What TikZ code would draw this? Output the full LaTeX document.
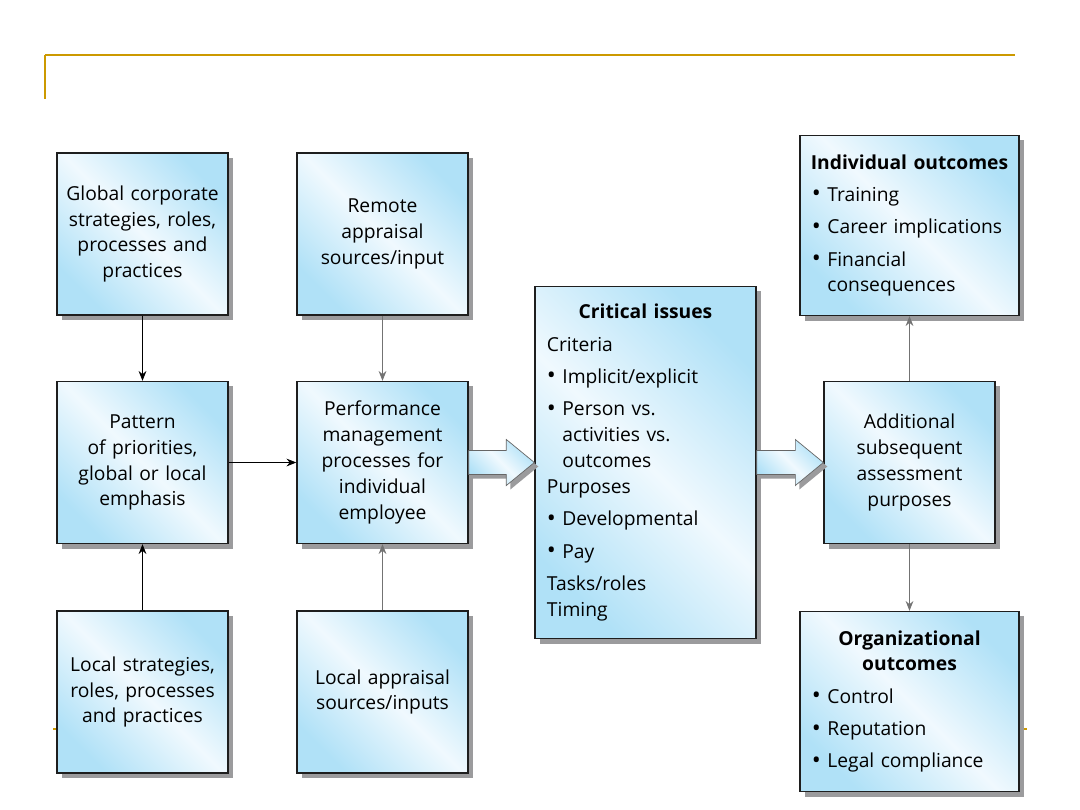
\documentclass[tikz,border=0pt]{standalone}
\usepackage{fontspec}
\setmainfont{Open Sans}
\usetikzlibrary{arrows.meta, shadows, calc}

\definecolor{slidegold}{RGB}{204,153,0}
\definecolor{boxblue}{RGB}{176,225,247}
\definecolor{boxpale}{RGB}{240,249,254}
\definecolor{shadowgray}{RGB}{155,155,157}
\definecolor{edgegray}{RGB}{30,30,30}

% bullet line, continuation lines indented with \bnext
\newcommand{\bitem}[1]{\par\vspace{4.6pt}\noindent\makebox[0.8em][l]{\raisebox{-0.02em}{\fontsize{17}{17}\selectfont\textbullet}}#1}
\newcommand{\bnext}{\\\hspace*{0.8em}}
\newcommand{\boxhead}[1]{\noindent\makebox[\linewidth][c]{\bfseries #1}\par}

\begin{document}
\begin{tikzpicture}[x=0.025cm, y=-0.025cm,
    box/.style={draw=edgegray, line width=0.9pt, top color=boxblue, bottom color=boxblue,
        middle color=boxpale, shading angle=-45, inner sep=0pt,
        general shadow={fill=shadowgray, shadow xshift=0.125cm, shadow yshift=-0.125cm},
        font=\fontsize{13.7}{18.4}\selectfont},
    sqbox/.style={box, minimum width=4.275cm, minimum height=4.05cm, text width=3.9cm, align=center},
    listbox/.style={box, align=left},
    conn/.style={-{Stealth[length=7pt, width=5.5pt]}, line width=0.7pt, black},
    connlight/.style={conn, black!55},
    bigarrow/.style={draw=black!60, line width=0.5pt, top color=boxblue, bottom color=boxblue,
        middle color=boxpale, shading angle=-45,
        general shadow={fill=shadowgray, shadow xshift=0.1cm, shadow yshift=-0.1cm}}]
    \useasboundingbox (0,0) rectangle (1080,810);

    % Slide frame
    \draw[slidegold, line width=0.8pt] (45,55) -- (1015,55);
    \draw[slidegold, line width=1.6pt] (45,55) -- (45,99);
    \draw[slidegold, line width=0.8pt] (53,729) -- (56,729);
    \draw[slidegold, line width=0.8pt] (1024,729) -- (1027,729);

    % Inputs
    \node[sqbox] (glob) at (142.5,234) {Global corporate\\strategies, roles,\\processes and\\practices};
    \node[sqbox] (remote) at (382.5,234) {Remote\\appraisal\\sources/input};
    \node[sqbox] (pattern) at (142.5,462.5) {Pattern\\of priorities,\\global or local\\emphasis};
    \node[sqbox] (perf) at (382.5,462.5) {Performance\\management\\processes for\\individual\\employee};
    \node[sqbox] (locstrat) at (142.5,692) {Local strategies,\\roles, processes\\and practices};
    \node[sqbox] (locapp) at (382.5,692) {Local appraisal\\sources/inputs};

    % Issues and outcomes
    \node[listbox, minimum width=5.525cm, minimum height=8.8cm, text width=4.925cm] (crit) at (645.5,462.5) {%
        \boxhead{Critical issues}
        \vspace{4.6pt}\noindent Criteria
        \bitem{Implicit/explicit}
        \bitem{Person vs.\bnext activities vs.\bnext outcomes}
        \par\noindent Purposes
        \bitem{Developmental}
        \bitem{Pay}
        \par\vspace{4.6pt}\noindent Tasks/roles\\Timing};
    \node[listbox, minimum width=5.475cm, minimum height=4.5cm, text width=4.875cm] (indiv) at (909.5,225.5) {%
        \boxhead{Individual outcomes}
        \bitem{Training}
        \bitem{Career implications}
        \bitem{Financial\bnext consequences}};
    \node[sqbox] (addit) at (909.5,462.5) {Additional\\subsequent\\assessment\\purposes};
    \node[listbox, minimum width=5.475cm, minimum height=4.5cm, text width=4.875cm] (org) at (909.5,701.5) {%
        \boxhead{Organizational}
        \boxhead{outcomes}
        \bitem{Control}
        \bitem{Reputation}
        \bitem{Legal compliance}};

    % Connections
    \draw[conn] (glob) -- (pattern);
    \draw[conn] (locstrat) -- (pattern);
    \draw[conn] (pattern) -- (perf);
    \draw[connlight] (remote) -- (perf);
    \draw[connlight] (locapp) -- (perf);
    \draw[connlight] (addit) -- (indiv);
    \draw[connlight] (addit) -- (org);

    % Block arrows
    \draw[bigarrow] ($(perf.east)+(0,-12)$) -- ($(crit.west)+(-28,-12)$) -- ($(crit.west)+(-28,-23)$)
        -- (crit.west) -- ($(crit.west)+(-28,23)$) -- ($(crit.west)+(-28,12)$) -- ($(perf.east)+(0,12)$) -- cycle;
    \draw[bigarrow] ($(crit.east)+(0,-12)$) -- ($(addit.west)+(-28,-12)$) -- ($(addit.west)+(-28,-23)$)
        -- (addit.west) -- ($(addit.west)+(-28,23)$) -- ($(addit.west)+(-28,12)$) -- ($(crit.east)+(0,12)$) -- cycle;
\end{tikzpicture}
\end{document}
